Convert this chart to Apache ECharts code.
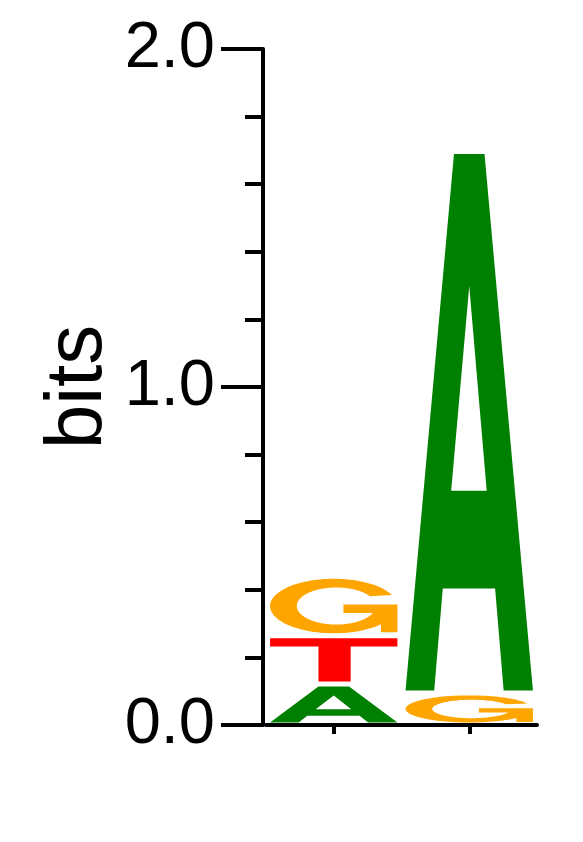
<!DOCTYPE html>
<html>
<head>
<meta charset="utf-8">
<script src="https://cdn.jsdelivr.net/npm/echarts@6/dist/echarts.min.js"></script>
<style>html,body{margin:0;padding:0;background:#fff;}#c{width:583px;height:842px;}</style>
</head>
<body>
<div id="c"></div>
<script>
// ---- data ----
const positions = ['1', '2'];
const bitsA = [0.121, 1.602];
const bitsT = [0.143, 0.0];
const bitsG = [0.176, 0.095];
const yTickLabels = ['0.0', '1.0', '2.0'];

const letterColors = { A: '#008000', T: '#ff0000', G: '#ffa500' };
const letterBits = { A: bitsA, T: bitsT, G: bitsG };

// glyph outlines in a unit box (x right, y down)
function glyphContours(letter) {
  if (letter === 'A') {
    return [
      [[0,1],[0.38,0],[0.62,0],[1,1],[0.77,1],[0.703,0.81],[0.292,0.81],[0.225,1]],
      [[0.358,0.628],[0.637,0.628],[0.5,0.246]]
    ];
  }
  if (letter === 'T') {
    return [[[0,0],[1,0],[1,0.19],[0.633,0.19],[0.633,1],[0.38,1],[0.38,0.19],[0,0.19]]];
  }
  // G
  const pts = [];
  const deg = Math.PI / 180;
  for (let a = 24; a <= 317.7; a += 3) {
    pts.push([0.5 + 0.5 * Math.cos(a * deg), 0.5 - 0.5 * Math.sin(a * deg)]);
  }
  pts.push([0.87, 0.836]);
  pts.push([0.87, 0.98]);
  pts.push([1.0, 0.98]);
  pts.push([1.0, 0.47]);
  pts.push([0.576, 0.47]);
  pts.push([0.576, 0.63]);
  for (let a = -22.5; a >= -330; a -= 3) {
    pts.push([0.52 + 0.31 * Math.cos(a * deg), 0.5 - 0.34 * Math.sin(a * deg)]);
  }
  return [pts];
}

// build stacked data: smallest at bottom
const stackData = [];
const stackLetters = [];
positions.forEach(function (p, i) {
  const stack = ['A', 'T', 'G']
    .map(function (l) { return { l: l, h: letterBits[l][i] }; })
    .filter(function (d) { return d.h > 0; })
    .sort(function (a, b) { return a.h - b.h; });
  let base = 0;
  stack.forEach(function (d) {
    stackData.push([i, base, base + d.h]);
    stackLetters.push(d.l);
    base += d.h;
  });
});

function renderItem(params, api) {
  const letter = stackLetters[params.dataIndex];
  const p0 = api.coord([api.value(0), api.value(1)]);
  const p1 = api.coord([api.value(0), api.value(2)]);
  const bw = api.size([1, 0])[0] * 0.94;
  const inset = 2.5;
  const x0 = p0[0] - bw / 2;
  const yTop = p1[1] + inset;
  const yBot = p0[1] - inset;
  const h = yBot - yTop;
  let d = '';
  glyphContours(letter).forEach(function (c) {
    c.forEach(function (pt, k) {
      d += (k === 0 ? 'M' : 'L') + (x0 + pt[0] * bw).toFixed(2) + ',' + (yTop + pt[1] * h).toFixed(2);
    });
    d += 'Z';
  });
  return {
    type: 'path',
    shape: { pathData: d },
    style: { fill: letterColors[letter], stroke: null }
  };
}

const chart = echarts.init(document.getElementById('c'), null, { renderer: 'canvas' });
chart.setOption({
  animation: false,
  backgroundColor: '#fff',
  grid: { left: 266, right: 46, top: 49, bottom: 117 },
  xAxis: {
    type: 'category',
    data: positions,
    axisLine: { show: true, lineStyle: { color: '#000', width: 4 } },
    axisTick: { show: true, interval: 0, alignWithLabel: true, length: 9, lineStyle: { color: '#000', width: 4 } },
    axisLabel: { show: true, interval: 0, formatter: function () { return ''; } },
    splitLine: { show: false }
  },
  yAxis: {
    type: 'value',
    min: 0, max: 2, interval: 1,
    offset: 3,
    axisLine: { show: true, lineStyle: { color: '#000', width: 4 } },
    axisTick: { show: true, length: 42, lineStyle: { color: '#000', width: 4 } },
    minorTick: { show: true, splitNumber: 5, length: 18, lineStyle: { color: '#000', width: 4 } },
    splitLine: { show: false },
    axisLabel: {
      formatter: function (v) { return yTickLabels[Math.round(v)]; },
      fontSize: 65, color: '#000', margin: 48, fontFamily: 'Liberation Sans'
    },
    name: 'bits',
    nameLocation: 'middle',
    nameRotate: 90,
    nameGap: 144,
    nameTextStyle: { fontSize: 80, color: '#000', fontFamily: 'Liberation Sans' }
  },
  series: [{
    type: 'custom',
    renderItem: renderItem,
    data: stackData,
    clip: false
  }]
});
</script>
</body>
</html>
